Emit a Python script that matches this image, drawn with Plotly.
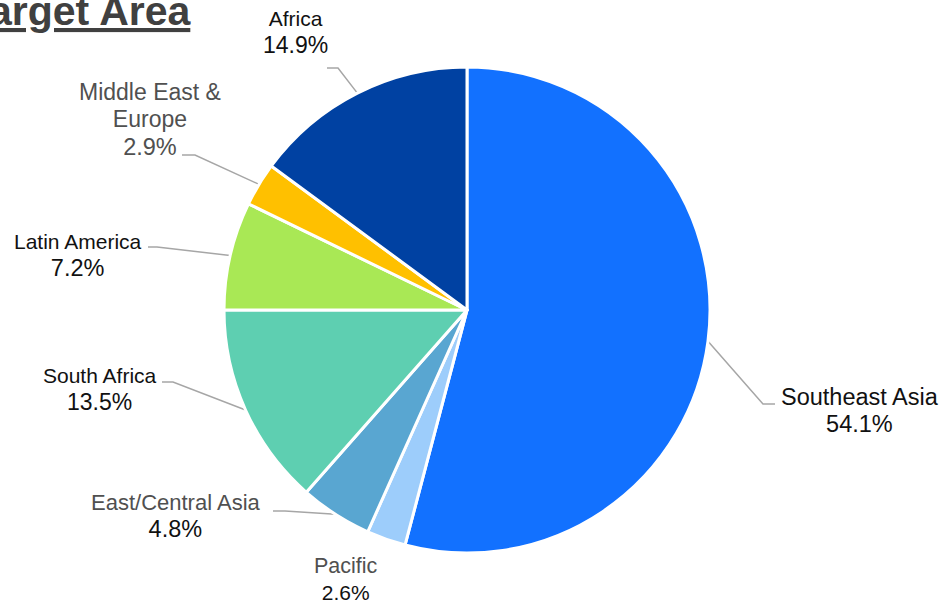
import numpy as np
import plotly.graph_objects as go

# ---- data ----
categories = ["Southeast Asia", "Pacific", "East/Central Asia", "South Africa",
              "Latin America", "Middle East & Europe", "Africa"]
label_text = ["Southeast Asia", "Pacific", "East/Central Asia", "South Africa",
              "Latin America", "Middle East &<br>Europe", "Africa"]
values = [54.1, 2.6, 4.8, 13.5, 7.2, 2.9, 14.9]
colors = ["#1271FF", "#9DCDFB", "#59A6D1", "#5ECFB1", "#A9E855", "#FFC000", "#0041A2"]
title_text = "Target Area"

# ---- layout (pixels) ----
W, H = 945, 606
CX, CY, R = 467, 310, 243
FONT = "Liberation Sans, Arial, sans-serif"
BLACK = "#111111"
GREY = "#505050"
name_grey = [False, True, True, False, False, True, False]
pct_grey = [False, False, False, False, False, True, False]
name_size = [23.5, 21.5, 22, 21, 21, 23, 21]
pct_size = [23.5, 21, 23.5, 23, 23.5, 23.5, 23]
# label centre, elbow, and line end (None = no leader line)
label_pos = [(860, 410), (346, 579), (176, 516), (100, 389), (78, 255), (150, 119), (295, 32)]
elbows = [(763, 404, 775), None, (285, 511, 273), (173, 382, 162),
          (157, 247, 148), (195, 155, 182), (338, 68, 327)]

fig = go.Figure()
fig.add_trace(go.Pie(
    labels=categories, values=values, sort=False, direction="clockwise", rotation=0,
    marker=dict(colors=colors, line=dict(color="white", width=3)),
    textinfo="none", hoverinfo="label+percent", showlegend=False,
    domain=dict(x=[(CX - R) / W, (CX + R) / W], y=[(H - CY - R) / H, (H - CY + R) / H]),
))

# leader lines from slice mid-angles
vals = np.array(values)
cum = np.cumsum(vals) - vals / 2
ang = cum / vals.sum() * 2 * np.pi
for i, e in enumerate(elbows):
    if e is None:
        continue
    ex0 = CX + R * np.sin(ang[i])
    ey0 = CY - R * np.cos(ang[i])
    fig.add_trace(go.Scatter(
        x=[ex0, e[0], e[2]], y=[ey0, e[1], e[1]], mode="lines",
        line=dict(color="#A6A6A6", width=1.5), hoverinfo="skip", showlegend=False))

for i in range(len(categories)):
    nc = GREY if name_grey[i] else BLACK
    pc = GREY if pct_grey[i] else BLACK
    txt = (f"<span style='color:{nc};font-size:{name_size[i]}px'>{label_text[i]}</span><br>"
           f"<span style='color:{pc};font-size:{pct_size[i]}px'>{values[i]:.1f}%</span>")
    fig.add_annotation(x=label_pos[i][0], y=label_pos[i][1], xref="x", yref="y",
                       text=txt, showarrow=False, xanchor="center", yanchor="middle",
                       align="center", font=dict(family=FONT, size=21, color=BLACK))

fig.add_annotation(x=193, y=11, xref="x", yref="y", text=f"<b><u>{title_text}</u></b>",
                   showarrow=False, xanchor="right", yanchor="middle",
                   font=dict(family=FONT, size=41, color="#404040"))

fig.update_layout(
    width=W, height=H, autosize=False, margin=dict(l=0, r=0, t=0, b=0),
    paper_bgcolor="white", plot_bgcolor="white",
    xaxis=dict(range=[0, W], visible=False, fixedrange=True),
    yaxis=dict(range=[H, 0], visible=False, fixedrange=True),
)
fig.write_html("out.html", config={"displayModeBar": False},
               post_script="document.body.style.margin='0px';")
